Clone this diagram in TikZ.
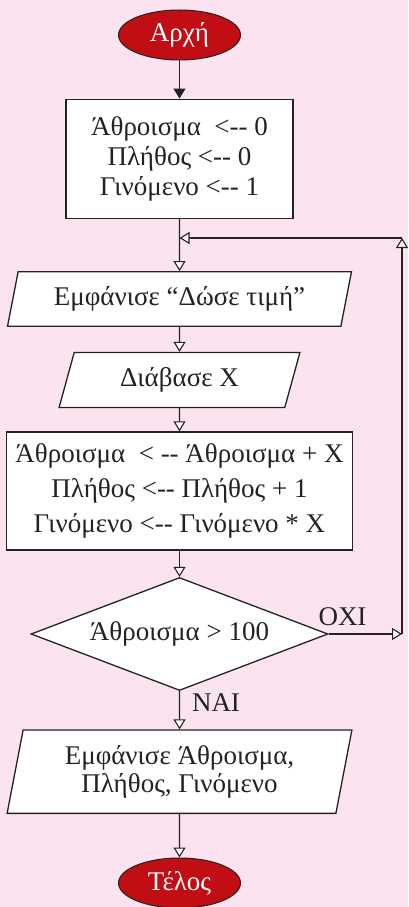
\documentclass[tikz,border=0pt]{standalone}
\usepackage{fontspec}
\setmainfont{Liberation Serif}[Ligatures=TeXOff]
\usetikzlibrary{shapes.geometric,arrows.meta}
\definecolor{bgpink}{RGB}{251,228,240}
\definecolor{termred}{RGB}{192,14,20}
\definecolor{ink}{RGB}{35,35,35}

\begin{document}
\begin{tikzpicture}[x=1pt,y=-1pt,
  every node/.style={text=ink, font=\fontsize{27}{30}\selectfont},
  flow/.style={draw=ink, line width=1.3pt,
    -{Triangle[fill=white,length=10pt,width=12pt,line width=1.1pt]}},
  solidflow/.style={draw=ink, line width=1.3pt,
    -{Triangle[fill=ink,length=10pt,width=12pt,line width=1.1pt]}},
  terminal/.style={ellipse, draw=ink, line width=1pt, fill=termred,
    text=white, minimum width=122pt, minimum height=50pt, inner sep=0pt},
  procbox/.style={rectangle, draw=ink, line width=1.3pt, fill=white,
    align=center, inner sep=0pt},
  iobox/.style={trapezium, trapezium stretches=true, draw=ink,
    line width=1.3pt, fill=white, align=center, inner sep=0pt},
  decision/.style={diamond, draw=ink, line width=1.3pt, fill=white,
    inner sep=0pt, aspect=2.63},
  branchtxt/.style={inner sep=0pt}
]
\fill[bgpink] (0,0) rectangle (408,907);
\useasboundingbox (0,0) rectangle (408,907);

% terminals and steps
\node[terminal] (start) at (179.5,35) {Αρχή};
\node[procbox, minimum width=227pt, minimum height=119pt] (init) at (179.5,158.7)
  {Άθροισμα\ \ <-- 0\\ Πλήθος <-- 0\\ Γινόμενο <-- 1};
\node[iobox, trapezium left angle=71.6, trapezium right angle=108.4,
  minimum width=345pt, minimum height=54.5pt] (ask) at (179.5,299)
  {Εμφάνισε “Δώσε τιμή”};
\node[iobox, trapezium left angle=71, trapezium right angle=109,
  minimum width=241pt, minimum height=55pt] (read) at (179.5,380)
  {Διάβασε Χ};
\node[procbox, minimum width=346pt, minimum height=118pt,
  font=\fontsize{27}{35}\selectfont] (update) at (179.5,491)
  {Άθροισμα\ \ < -- Άθροισμα + Χ\\ Πλήθος <-- Πλήθος + 1\\ Γινόμενο <-- Γινόμενο * Χ};
\node[decision, minimum width=297pt, minimum height=113pt] (test) at (179.5,634)
  {Άθροισμα > 100};
\node[iobox, trapezium left angle=77.6, trapezium right angle=102.4,
  minimum width=345pt, minimum height=83.3pt,
  font=\fontsize{27}{28.5}\selectfont] (show) at (179.5,771.7)
  {Εμφάνισε Άθροισμα,\\ Πλήθος, Γινόμενο};
\node[terminal] (stop) at (179.5,883) {Τέλος};

% branch labels
\node[branchtxt] (no) at (342.5,617) {ΟΧΙ};
\node[branchtxt] (yes) at (216,703) {ΝΑΙ};

% loop-back route
\coordinate (loopTop) at (402,238);
\coordinate (loopBot) at (test.east -| loopTop);
\coordinate (join) at (init.south |- loopTop);

% connectors
\draw[solidflow] (start) -- (init);
\draw[flow] (init.south) -- (ask.north);
\draw[flow] (ask.south) -- (read.north);
\draw[flow] (read.south) -- (update.north);
\draw[flow] (update.south) -- (test.north);
\draw[flow] (test.south) -- (show.north);
\draw[flow] (show.south) -- (stop);
\draw[flow] (test.east) -- (loopBot);
\draw[flow] (loopBot) -- (loopTop);
\draw[flow] (loopTop) -- (join);
\end{tikzpicture}
\end{document}
